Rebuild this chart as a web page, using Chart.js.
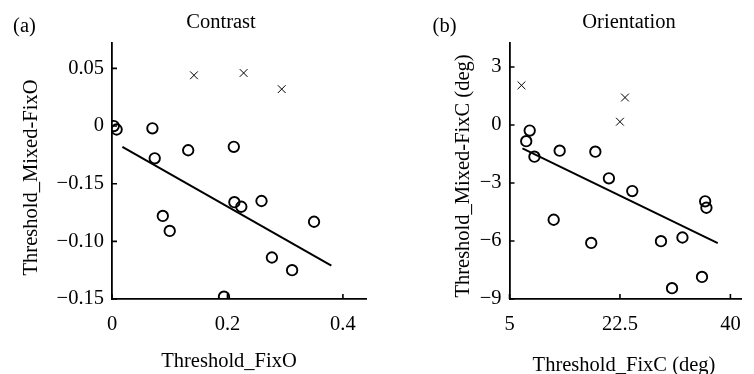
<!DOCTYPE html>
<html>
<head>
<meta charset="utf-8">
<script src="https://cdn.jsdelivr.net/npm/chart.js@4/dist/chart.umd.min.js"></script>
<style>
  body { margin: 0; background: #fff; }
  #wrap { position: relative; width: 754px; height: 374px; overflow: hidden; }
  canvas { position: absolute; top: 0; }
  #chartA { left: 0; }
  #chartB { left: 377px; }
</style>
</head>
<body>
<div id="wrap">
  <canvas id="chartA" width="377" height="374"></canvas>
  <canvas id="chartB" width="377" height="374"></canvas>
</div>
<script>
// (a) Contrast
const contrastX = [0.003, 0.008, 0.070, 0.074, 0.132, 0.211, 0.088, 0.100, 0.212, 0.224, 0.259, 0.350, 0.277, 0.312, 0.194];
const contrastY = [0.000, -0.003, -0.002, -0.028, -0.021, -0.018, -0.078, -0.091, -0.066, -0.070, -0.065, -0.083, -0.114, -0.125, -0.148];
const contrastOutX = [0.142, 0.228, 0.294];
const contrastOutY = [0.044, 0.046, 0.032];
const contrastFitX = [0.018, 0.380];
const contrastFitY = [-0.018, -0.121];
const contrastXTicks = [0, 0.2, 0.4];
const contrastXLabels = ['0', '0.2', '0.4'];
const contrastYTicks = [0.05, 0, -0.05, -0.10, -0.15];
const contrastYLabels = ['0.05', '0', '\u22120.15', '\u22120.10', '\u22120.15'];

// (b) Orientation
const orientX = [7.65, 8.2, 8.95, 12.95, 18.6, 20.75, 24.45, 12.0, 17.95, 29.0, 32.4, 36.0, 36.2, 35.5, 30.75];
const orientY = [-0.84, -0.29, -1.64, -1.33, -1.38, -2.76, -3.42, -4.9, -6.1, -6.01, -5.82, -3.95, -4.28, -7.86, -8.44];
const orientOutX = [6.9, 23.3, 22.5];
const orientOutY = [2.05, 1.42, 0.17];
const orientFitX = [7.05, 38.0];
const orientFitY = [-1.21, -6.11];
const orientXTicks = [5, 22.5, 40];
const orientXLabels = ['5', '22.5', '40'];
const orientYTicks = [3, 0, -3, -6, -9];
const orientYLabels = ['3', '0', '\u22123', '\u22126', '\u22129'];

const FONT = '"Liberation Serif", "Times New Roman", serif';

function pts(xs, ys) { return xs.map((x, i) => ({x: x, y: ys[i]})); }

// short ticks pointing into the plot
const innerTicks = {
  id: 'innerTicks',
  afterDraw(chart) {
    const ctx = chart.ctx, a = chart.chartArea;
    const xs = chart.scales.x, ys = chart.scales.y;
    ctx.save();
    ctx.strokeStyle = '#000';
    ctx.lineWidth = 1.6;
    ctx.beginPath();
    xs.ticks.forEach(t => {
      const px = xs.getPixelForValue(t.value);
      ctx.moveTo(px, a.bottom);
      ctx.lineTo(px, a.bottom - 5);
    });
    ys.ticks.forEach(t => {
      const py = ys.getPixelForValue(t.value);
      ctx.moveTo(a.left, py);
      ctx.lineTo(a.left + 5, py);
    });
    ctx.stroke();
    ctx.restore();
  }
};

// panel letter, title and axis titles
const panelText = {
  id: 'panelText',
  afterDraw(chart, args, opts) {
    const ctx = chart.ctx;
    ctx.save();
    ctx.fillStyle = '#000';
    ctx.font = '20.5px ' + FONT;
    ctx.textBaseline = 'alphabetic';
    (opts.items || []).forEach(it => {
      ctx.save();
      ctx.translate(it.x, it.y);
      if (it.rotate) ctx.rotate(-Math.PI / 2);
      ctx.textAlign = 'center';
      ctx.fillText(it.text, 0, 0);
      ctx.restore();
    });
    ctx.restore();
  }
};

function makeChart(id, d) {
  const tickFont = {family: FONT, size: 20.5};
  return new Chart(document.getElementById(id), {
    type: 'scatter',
    data: {
      datasets: [
        {
          data: pts(d.x, d.y),
          pointStyle: 'circle',
          pointRadius: 5.2,
          pointBorderWidth: 1.9,
          pointBorderColor: '#000',
          pointBackgroundColor: 'rgba(0,0,0,0)'
        },
        {
          data: pts(d.outX, d.outY),
          pointStyle: 'crossRot',
          pointRadius: 5.5,
          pointBorderWidth: 1,
          pointBorderColor: '#000'
        },
        {
          type: 'line',
          data: pts(d.fitX, d.fitY),
          borderColor: '#000',
          borderWidth: 2,
          pointRadius: 0,
          fill: false
        }
      ]
    },
    options: {
      responsive: false,
      animation: false,
      events: [],
      layout: {padding: {top: 43, right: d.padRight, bottom: 0, left: 0}},
      plugins: {
        legend: {display: false},
        tooltip: {enabled: false},
        panelText: {items: d.texts}
      },
      scales: {
        x: {
          type: 'linear',
          min: d.xMin, max: d.xMax,
          grid: {display: false, drawTicks: false},
          border: {display: true, color: '#000', width: 1.8},
          afterBuildTicks: s => { s.ticks = d.xTicks.map(v => ({value: v})); },
          afterFit: s => { s.height = 75; },
          ticks: {
            color: '#000', font: tickFont, padding: 13, maxRotation: 0,
            callback: (v) => d.xLabels[d.xTicks.indexOf(v)]
          }
        },
        y: {
          type: 'linear',
          min: d.yMin, max: d.yMax,
          grid: {display: false, drawTicks: false},
          border: {display: true, color: '#000', width: 1.8},
          afterBuildTicks: s => { s.ticks = d.yTicks.map(v => ({value: v})); },
          afterFit: s => { s.width = d.axisLeft; },
          ticks: {
            color: '#000', font: tickFont, padding: 8,
            callback: (v) => d.yLabels[d.yTicks.indexOf(v)]
          }
        }
      }
    },
    plugins: [innerTicks, panelText]
  });
}

makeChart('chartA', {
  x: contrastX, y: contrastY, outX: contrastOutX, outY: contrastOutY,
  fitX: contrastFitX, fitY: contrastFitY,
  xTicks: contrastXTicks, xLabels: contrastXLabels,
  yTicks: contrastYTicks, yLabels: contrastYLabels,
  xMin: 0, xMax: 0.44, yMin: -0.15, yMax: 0.072,
  axisLeft: 112, padRight: 11,
  texts: [
    {text: '(a)', x: 24.5, y: 31.5},
    {text: 'Contrast', x: 221, y: 27.5},
    {text: 'Threshold_FixO', x: 229, y: 366.5},
    {text: 'Threshold_Mixed-FixO', x: 36.5, y: 177.5, rotate: true}
  ]
});

makeChart('chartB', {
  x: orientX, y: orientY, outX: orientOutX, outY: orientOutY,
  fitX: orientFitX, fitY: orientFitY,
  xTicks: orientXTicks, xLabels: orientXLabels,
  yTicks: orientYTicks, yLabels: orientYLabels,
  xMin: 5, xMax: 41.8, yMin: -9, yMax: 4.24,
  axisLeft: 132.5, padRight: 0,
  texts: [
    {text: '(b)', x: 67.5, y: 31.5},
    {text: 'Orientation', x: 252, y: 27.5},
    {text: 'Threshold_FixC (deg)', x: 247, y: 370.7},
    {text: 'Threshold_Mixed-FixC (deg)', x: 92, y: 176, rotate: true}
  ]
});
</script>
</body>
</html>
